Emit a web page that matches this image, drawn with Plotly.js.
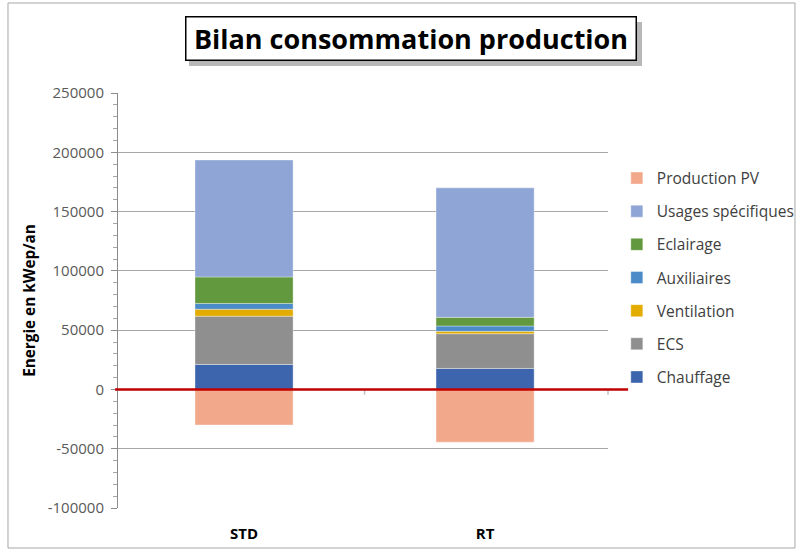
<!DOCTYPE html>
<html>
<head>
<meta charset="utf-8">
<script src="https://cdn.plot.ly/plotly-3.0.1.min.js"></script>
<style>html,body{margin:0;padding:0;background:#fff;}#chart{width:803px;height:553px;}</style>
</head>
<body>
<div id="chart"></div>
<script>
const categories = ['STD', 'RT'];
const chauffage = [21000, 17700];
const ecs = [40800, 29300];
const ventilation = [5900, 2000];
const auxiliaires = [4800, 4500];
const eclairage = [22400, 7300];
const usagesSpecifiques = [98600, 109200];
const productionPV = [-30000, -44500];

const seriesNames = ['Chauffage', 'ECS', 'Ventilation', 'Auxiliaires', 'Eclairage', 'Usages spécifiques', 'Production PV'];
const seriesValues = [chauffage, ecs, ventilation, auxiliaires, eclairage, usagesSpecifiques, productionPV];
const seriesColors = ['#3c65ad', '#8f8f8f', '#e3ac00', '#4b8bc7', '#62993e', '#8fa5d6', '#f2a98b'];

const yTickValues = [-100000, -50000, 0, 50000, 100000, 150000, 200000, 250000];
const yTickLabels = ['-100000', '-50000', '0', '50000', '100000', '150000', '200000', '250000'];
const yRange = [-100000, 250000];
const zeroPaper = (0 - yRange[0]) / (yRange[1] - yRange[0]);

const font = 'Open Sans, Liberation Sans, sans-serif';

const traces = seriesNames.map((n, i) => ({
  type: 'bar',
  name: n,
  x: categories,
  y: seriesValues[i],
  legendgroup: 'g' + i,
  legendrank: 1000 - i * 10,
  marker: {color: seriesColors[i], line: {color: 'rgba(255,255,255,0.35)', width: 1}},
  hoverinfo: 'x+y+name'
}));

const layout = {
  width: 803, height: 553,
  margin: {l: 118, r: 195, t: 93, b: 45, autoexpand: false},
  paper_bgcolor: '#ffffff', plot_bgcolor: '#ffffff',
  barmode: 'relative',
  bargap: 0.593,
  font: {family: font, size: 14, color: '#404040'},
  showlegend: true,
  legend: {
    x: 1.018, xanchor: 'left', y: 0.835, yanchor: 'top',
    bgcolor: 'rgba(0,0,0,0)',
    traceorder: 'grouped', tracegroupgap: 10,
    font: {family: font, size: 15.5, color: '#404040'},
    itemwidth: 30
  },
  xaxis: {
    type: 'category',
    range: [-0.523, 1.51],
    showgrid: false, zeroline: false, showline: false,
    ticks: 'outside', ticklen: 12, tickcolor: 'rgba(0,0,0,0)',
    tickfont: {family: font, size: 15, color: '#000', weight: 'bold'},
    fixedrange: true
  },
  yaxis: {
    range: yRange,
    tickmode: 'array', tickvals: yTickValues, ticktext: yTickLabels,
    showgrid: true, gridcolor: '#a6a6a6', gridwidth: 1,
    zeroline: false,
    showline: true, linecolor: '#8c8c8c', linewidth: 1,
    ticks: 'outside', ticklen: 6, tickcolor: '#8c8c8c',
    ticklabelstandoff: 4,
    minor: {dtick: 10000, tick0: 0, ticks: 'outside', ticklen: 4, tickcolor: '#a6a6a6', showgrid: false},
    tickfont: {family: font, size: 15, color: '#595959'},
    title: {text: 'Energie en kWep/an', standoff: 8, font: {family: font, size: 15.3, color: '#000', weight: 'bold'}},
    fixedrange: true
  },
  shapes: [
    {type: 'rect', xref: 'paper', yref: 'paper', x0: -0.2245, x1: 1.3816, y0: -0.0964, y1: 1.2169,
     line: {color: '#a6a6a6', width: 1}, fillcolor: 'rgba(0,0,0,0)', layer: 'below'},
    {type: 'rect', xref: 'paper', yref: 'paper', x0: (189 - 118) / 490, x1: (642 - 118) / 490,
     y0: (508 - 66) / 415, y1: (508 - 22) / 415,
     line: {width: 0}, fillcolor: 'rgba(0,0,0,0.28)', layer: 'below'},
    {type: 'line', xref: 'x', yref: 'y', x0: 0.5, x1: 0.5, y0: 0, y1: -4500, line: {color: '#bfbfbf', width: 1.5}},
    {type: 'line', xref: 'paper', yref: 'y', x0: 1.0, x1: 1.0, y0: 0, y1: -4500, line: {color: '#bfbfbf', width: 1.5}},
    {type: 'line', xref: 'paper', yref: 'paper', x0: -0.006, x1: 1.041, y0: zeroPaper, y1: zeroPaper, line: {color: '#c00000', width: 2.5}}
  ],
  annotations: [
    {text: 'Bilan consommation production', xref: 'paper', yref: 'paper', x: (411 - 118) / 490, y: (508 - 39) / 415,
     xanchor: 'center', yanchor: 'middle', showarrow: false,
     width: 445, height: 38, align: 'center', valign: 'middle',
     font: {family: font, size: 27, color: '#000', weight: 'bold'},
     bgcolor: '#ffffff', borderpad: 2, borderwidth: 1.5, bordercolor: '#000'}
  ]
};

Plotly.newPlot('chart', traces, layout, {displayModeBar: false, staticPlot: true});
</script>
</body>
</html>
